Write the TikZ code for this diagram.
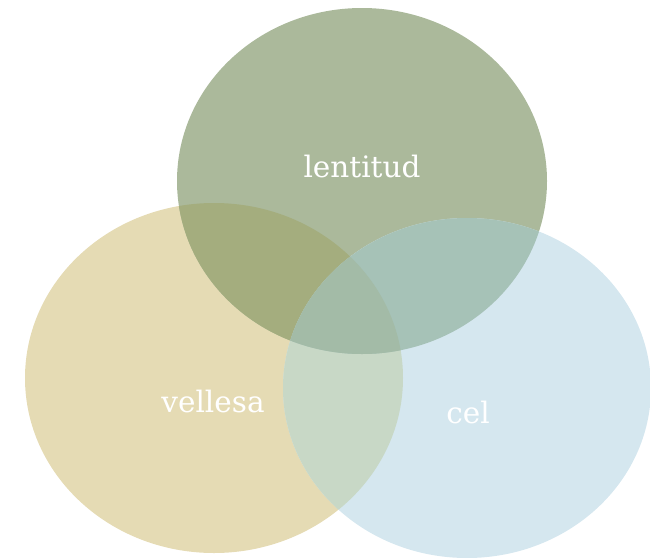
\documentclass[tikz,border=0pt]{standalone}
\usepackage{fontspec}
\newfontfamily\labelfont{DejaVu Serif}
\definecolor{cGreen}{HTML}{ABB99B}
\definecolor{cTan}{HTML}{E5DBB4}
\definecolor{cBlue}{HTML}{D5E7EF}
\definecolor{cTG}{HTML}{A4AD7E}
\definecolor{cGB}{HTML}{A6C2B7}
\definecolor{cTB}{HTML}{C8D8C6}
\definecolor{cTGB}{HTML}{A3BBA7}
\tikzset{
  lbl/.style={text=white, font=\labelfont\fontsize{29.5}{31}\selectfont, anchor=base, inner sep=0pt},
}
\def\greenE{(362pt,-181pt) ellipse [x radius=185pt, y radius=173pt]}
\def\tanE{(214pt,-378pt) ellipse [x radius=189pt, y radius=175pt]}
\def\blueE{(467pt,-388pt) ellipse [x radius=184pt, y radius=170pt]}
\begin{document}
\begin{tikzpicture}[x=1pt,y=-1pt]
\useasboundingbox (0,0) rectangle (650,557);
\clip (0,0) rectangle (650,557);
\fill[cTan] \tanE;
\fill[cGreen] \greenE;
\fill[cBlue] \blueE;
\begin{scope}
  \clip \tanE;
  \fill[cTG] \greenE;
  \fill[cTB] \blueE;
\end{scope}
\begin{scope}
  \clip \greenE;
  \fill[cGB] \blueE;
\end{scope}
\begin{scope}
  \clip \tanE;
  \clip \greenE;
  \fill[cTGB] \blueE;
\end{scope}
\node[lbl] (lentitud) at (362,177) {lentitud};
\node[lbl] (vellesa) at (213,412) {vellesa};
\node[lbl] (cel) at (468,423) {cel};
\end{tikzpicture}
\end{document}
